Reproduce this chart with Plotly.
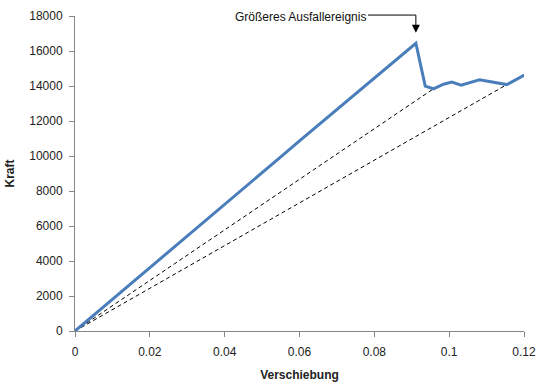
import plotly.graph_objects as go

# Main force-displacement curve
verschiebung = [0, 0.005, 0.01, 0.015, 0.02, 0.025, 0.03, 0.035, 0.04, 0.045, 0.05,
                0.055, 0.06, 0.065, 0.07, 0.075, 0.08, 0.085, 0.0911,
                0.0936, 0.0958, 0.0985, 0.1007, 0.1032, 0.1081, 0.1154, 0.1201]
kraft = [0, 900, 1800, 2700, 3600, 4500, 5420, 6330, 7230, 8130, 9040,
         9950, 10870, 11760, 12640, 13540, 14430, 15330, 16440,
         13990, 13840, 14100, 14220, 14050, 14350, 14080, 14630]

# Secant (dashed) lines
secant1_x = [0, 0.0958]
secant1_y = [0, 13840]
secant2_x = [0, 0.1154]
secant2_y = [0, 14080]

annotation_text = "Größeres Ausfallereignis"
peak_x = 0.0911
arrow_tip_y = 17050

font_family = "Liberation Sans, Arial, sans-serif"

fig = go.Figure()
fig.add_trace(go.Scatter(x=secant1_x, y=secant1_y, mode="lines",
                         line=dict(color="black", width=1, dash="4px,3px"),
                         showlegend=False))
fig.add_trace(go.Scatter(x=secant2_x, y=secant2_y, mode="lines",
                         line=dict(color="black", width=1, dash="4px,3px"),
                         showlegend=False))
fig.add_trace(go.Scatter(x=verschiebung, y=kraft, mode="lines",
                         line=dict(color="#4a7ebb", width=3),
                         showlegend=False, cliponaxis=False))

# Annotation: text, horizontal leader line, and downward arrow
fig.add_annotation(x=0.0, y=1.0, xref="paper", yref="paper", text=annotation_text,
                   showarrow=False, xanchor="center", yanchor="middle",
                   font=dict(family=font_family, size=12, color="#111"),
                   xshift=(300 - 75), yshift=(331 - 17) - 315)
fig.add_shape(type="line", xref="x", yref="paper",
              x0=0.0783, x1=peak_x, y0=1.003, y1=1.003,
              line=dict(color="black", width=1))
fig.add_annotation(x=peak_x, y=arrow_tip_y, xref="x", yref="y",
                   ax=0, ay=-19, showarrow=True, arrowhead=2, arrowsize=1.6,
                   arrowwidth=1, arrowcolor="black", text="")

axis_common = dict(showline=True, linecolor="#868686", linewidth=1,
                   ticks="outside", ticklen=5, tickcolor="#868686",
                   showgrid=False, zeroline=False, automargin=False,
                   tickfont=dict(family=font_family, size=12, color="#222"))

fig.update_xaxes(range=[0, 0.12], dtick=0.02, tick0=0, ticklabelstandoff=5,
                 title=dict(text="<b>Verschiebung</b>",
                            font=dict(family=font_family, size=12, color="#222"),
                            standoff=12),
                 **axis_common)
fig.update_yaxes(range=[0, 18000], dtick=2000, tick0=0, tickformat="d",
                 ticklabelstandoff=4,
                 title=dict(text="<b>Kraft</b>",
                            font=dict(family=font_family, size=12, color="#222"),
                            standoff=12),
                 **axis_common)

fig.update_layout(width=543, height=384,
                  margin=dict(l=75, r=19, t=16, b=53),
                  plot_bgcolor="white", paper_bgcolor="white",
                  font=dict(family=font_family))

fig.write_html("out.html")
